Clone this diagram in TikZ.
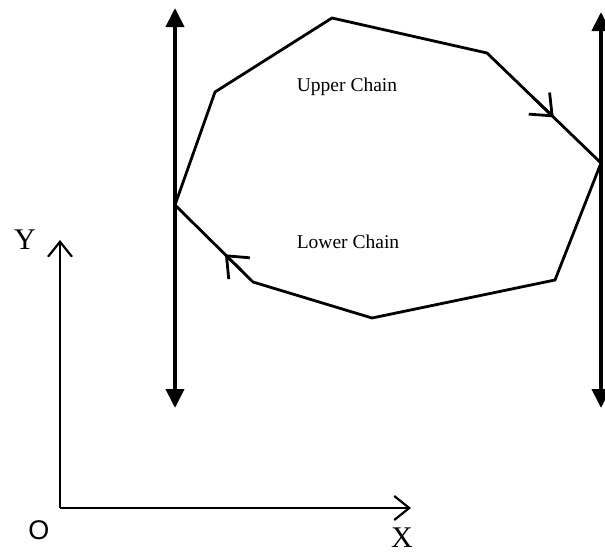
\documentclass[tikz,border=0pt]{standalone}
\usepackage{fontspec}
\setmainfont{Liberation Serif}
\newfontfamily\sansf{Liberation Sans}
\usetikzlibrary{arrows.meta,calc}
\begin{document}
\begin{tikzpicture}[x=1pt,y=-1pt,
  chain/.style={line width=2.8pt,line join=miter},
  wall/.style={line width=4pt,{Triangle[length=19pt,width=18pt]}-{Triangle[length=19pt,width=18pt]}},
  axis/.style={line width=2.2pt,-{Straight Barb[length=15pt,width=24pt,line width=2.2pt]}},
  dirarrow/.style={line width=2.8pt,-{Straight Barb[length=18pt,width=30pt,line width=2.8pt]}},
  lab/.style={font=\fontsize{19.5}{21}\selectfont},
  axlab/.style={font=\fontsize{30}{32}\selectfont}]
\useasboundingbox (0,0) rectangle (605,554);
% polygon vertices
\coordinate (L) at (175,205);
\coordinate (u1) at (215,92);
\coordinate (u2) at (332,18);
\coordinate (u3) at (487,53);
\coordinate (R) at (601,163);
\coordinate (l3) at (555,280);
\coordinate (l2) at (372,318);
\coordinate (l1) at (253,282);
% vertical supporting lines
\coordinate (lt) at (175,8);
\coordinate (lb) at (175,408);
\coordinate (rt) at (601,12);
\coordinate (rb) at (601,408);
\draw[wall] (lt) -- (lb);
\draw[wall] (rt) -- (rb);
% chains
\draw[chain] (L) -- (u1) -- (u2) -- (u3) -- (R) -- (l3) -- (l2) -- (l1) -- cycle;
\draw[dirarrow] ($(u3)!0.40!(R)$) -- ($(u3)!0.585!(R)$);
\draw[dirarrow] ($(l1)!0.15!(L)$) -- ($(l1)!0.36!(L)$);
\node[lab] (uc) at (347,87) {Upper Chain};
\node[lab] (lc) at (348,242) {Lower Chain};
% axes
\coordinate (O) at (60,508);
\coordinate (yt) at (60,240);
\coordinate (xt) at (411,508);
\draw[axis] (O) -- (yt);
\draw[axis] (O) -- (xt);
\node[axlab] (ylab) at (25,240) {Y};
\node[font=\sansf\fontsize{27}{29}\selectfont] (olab) at (39,530) {O};
\node[axlab] (xlab) at (402,538) {X};
\end{tikzpicture}
\end{document}
